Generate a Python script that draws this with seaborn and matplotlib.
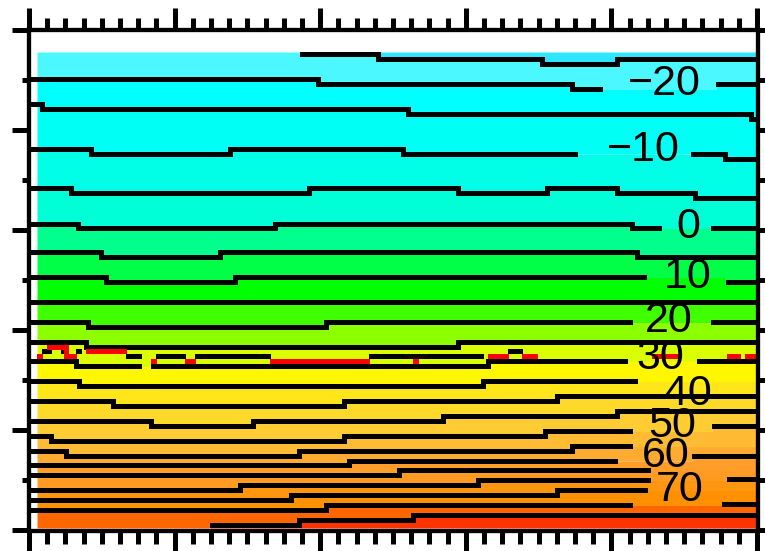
import numpy as np
import pandas as pd
import matplotlib
matplotlib.use("Agg")
import matplotlib.pyplot as plt
import seaborn as sns
from matplotlib.ticker import FixedLocator

sns.set_style("ticks")
plt.rcParams['font.family'] = ['Liberation Sans', 'DejaVu Sans']

nan = np.nan

# ---- contour lines (step breakpoints along x, value of each step; nan = gap) ----
L0_X = [29, 300, 378, 542, 617, 757];                L0_Y = [nan, 54.5, 59.5, 64.5, 59.5]
L1_X = [29, 318, 572, 602, 716, 757];                L1_Y = [79.5, 84.5, 89.5, nan, 84.5]
L2_X = [29, 42, 408, 751, 757];                      L2_Y = [104.5, 109.5, 114.5, 119.5]
L3_X = [29, 91, 230, 403, 577, 691, 725, 757];       L3_Y = [149.5, 154, 149.5, 154, nan, 154, 159]
L4_X = [29, 71, 309, 458, 547, 617, 695, 757];       L4_Y = [188.5, 193.5, 188.5, 193.5, 188.5, 193.5, 198.5]
L5_X = [29, 78, 275, 632, 661, 711, 757];            L5_Y = [224, 228.5, 224, 228.5, nan, 228.5]
L6_X = [29, 101, 220, 637, 757];                     L6_Y = [252.5, 257.5, 252.5, 257.5]
L7_X = [29, 106, 235, 646, 726, 757];                L7_Y = [277.5, 282.5, 277.5, nan, 282.5]
L8_X = [29, 757];                                    L8_Y = [302.5]
L9_X = [29, 88, 326, 632, 711, 757];                 L9_Y = [322.5, 327.5, 322.5, nan, 322.5]
L10_X = [29, 86, 458, 757];                          L10_Y = [342.5, 347, 342.5]
L11_X = [29, 76, 141, 151, 488, 627, 697, 757];      L11_Y = [361.5, 366.5, nan, 366.5, 361.5, nan, 361.5]
L12_X = [29, 79, 483, 637, 757];                     L12_Y = [381.5, 386.5, 381.5, nan]
L13_X = [29, 113, 344, 557, 757];                    L13_Y = [401.5, 406.5, 401.5, 396.5]
L14_X = [29, 151, 253, 443, 617, 757];               L14_Y = [421.5, 426.5, 421.5, 416.5, 411.5]
L15_X = [29, 51, 344, 545, 632, 712, 757];           L15_Y = [436.5, 441.5, 436.5, 431.5, nan, 426.5]
L16_X = [29, 66, 299, 572, 632, 757];                L16_Y = [451.5, 456.5, 451.5, 446.5, nan]
L17_X = [29, 349, 617, 692, 757];                    L17_Y = [465.5, 461, nan, 456.5]
L18_X = [29, 399, 650, 757];                         L18_Y = [475.5, 470.5, nan]
L19_X = [29, 240, 478, 650, 727, 757];               L19_Y = [490.5, 485.5, 480.5, nan, 479.5]
L20_X = [29, 291, 557, 647, 757];                    L20_Y = [500.5, 495.5, 490.5, nan]
L21_X = [29, 326, 632, 722, 757];                    L21_Y = [510.5, 505.5, nan, 504.5]
L22_X = [29, 210, 299, 413, 757];                    L22_Y = [nan, 525.5, 520.5, 515.5]

LINES_X = [L0_X, L1_X, L2_X, L3_X, L4_X, L5_X, L6_X, L7_X, L8_X, L9_X, L10_X, L11_X,
           L12_X, L13_X, L14_X, L15_X, L16_X, L17_X, L18_X, L19_X, L20_X, L21_X, L22_X]
LINES_Y = [L0_Y, L1_Y, L2_Y, L3_Y, L4_Y, L5_Y, L6_Y, L7_Y, L8_Y, L9_Y, L10_Y, L11_Y,
           L12_Y, L13_Y, L14_Y, L15_Y, L16_Y, L17_Y, L18_Y, L19_Y, L20_Y, L21_Y, L22_Y]

# black fragments near the red line
BITS_X = [42, 51, 61, 66, 76, 81, 126, 141, 156, 185, 195, 270, 369, 483, 508, 522]
BITS_Y = [351.5, nan, 351.5, nan, 351.5, nan, 356.5, nan, 356.5, nan, 356.5, nan, 356.5, nan, 351.5]

# red line fragments
RED_X = [37, 42, 47, 66, 76, 86, 126, 151, 156, 185, 195, 270, 369, 413, 418,
         488, 508, 522, 537, 652, 680, 727, 740, 745, 757]
RED_Y = [356.5, nan, 347, 356.5, nan, 351.5, nan, 361.5, nan, 361.5, nan, 361.5, nan,
         361.5, nan, 356.5, nan, 356.5, nan, 356.5, nan, 356.5, nan, 356.5]

# band colours, top to bottom
BAND_COLORS = ['#30E6FF', '#4CF8FF', '#00FFFF', '#00FFF4', '#00FFE6', '#00FFD6',
               '#00FF8C', '#00FF46', '#00FF00', '#40FF00', '#8CFF00', '#DAFF00',
               '#FFF700', '#FFE61A', '#FFD92A', '#FFCC33', '#FFBB33', '#FFAA30',
               '#FF9E2A', '#FF9A22', '#FF9610', '#FF9000', '#FF6600', '#FF3300']

# contour labels
LABEL_TEXT = ['\u221220', '\u221210', '0', '10', '20', '30', '40', '50', '60', '70']
LABEL_X = [664, 643, 688, 688, 669, 660, 688, 672, 666, 680]
LABEL_Y = [84, 150, 227, 277, 321, 358, 394, 426, 456, 490]

FILL_X0, FILL_X1, FILL_TOP, FILL_BOTTOM = 37, 756, 52, 528


def step_eval(xb, yv, xg, default=None):
    s = pd.Series(np.array(yv, float)).ffill()
    s = s.bfill() if default is None else s.fillna(default)
    idx = np.clip(np.searchsorted(xb, xg, side='right') - 1, 0, len(yv) - 1)
    return s.values[idx]


def runs(xb, yv):
    out, i, n = [], 0, len(yv)
    while i < n:
        if np.isnan(yv[i]):
            i += 1
            continue
        j = i
        while j + 1 < n and not np.isnan(yv[j + 1]):
            j += 1
        out.append((list(xb[i:j + 2]), list(yv[i:j + 1]) + [yv[j]]))
        i = j + 1
    return out


fig = plt.figure(figsize=(7.65, 5.51), dpi=100)
ax = fig.add_axes([29 / 765, (551 - 530.5) / 551, 729 / 765, 501 / 551])

xg = np.arange(FILL_X0, FILL_X1 + 1, 1.0)
bounds = [np.full_like(xg, FILL_TOP)]
for k, (xb, yv) in enumerate(zip(LINES_X, LINES_Y)):
    d = FILL_TOP if k == 0 else (FILL_BOTTOM if k == len(LINES_X) - 1 else None)
    bounds.append(step_eval(xb, yv, xg, d))
bounds.append(np.full_like(xg, FILL_BOTTOM))
for i, c in enumerate(BAND_COLORS):
    ax.fill_between(xg, bounds[i], bounds[i + 1], step='post', color=c,
                    linewidth=0, antialiased=False, zorder=1)


def draw(xb, yv, color, lw):
    for xs, ys in runs(xb, yv):
        sns.lineplot(x=xs, y=ys, drawstyle='steps-post', color=color, linewidth=lw,
                     estimator=None, sort=False, ax=ax, legend=False,
                     antialiased=False, solid_capstyle='butt', solid_joinstyle='miter',
                     zorder=3)


for xb, yv in zip(LINES_X, LINES_Y):
    draw(xb, yv, 'black', 3.6)
draw(BITS_X, BITS_Y, 'black', 3.6)
draw(RED_X, RED_Y, '#FF0000', 3.6)

for s, x, y in zip(LABEL_TEXT, LABEL_X, LABEL_Y):
    ax.text(x, y, s, ha='center', va='center', fontsize=31, color='black', zorder=4)

ax.set_xlim(29, 758)
ax.set_ylim(530.5, 29.5)
ax.set_xlabel('')
ax.set_ylabel('')

ax.xaxis.set_major_locator(FixedLocator(29 + 145.6 * np.arange(6)))
ax.xaxis.set_minor_locator(FixedLocator(29 + 18.2 * np.arange(41)))
ax.yaxis.set_major_locator(FixedLocator(30 + 100 * np.arange(6)))
ax.yaxis.set_minor_locator(FixedLocator(80 + 100 * np.arange(5)))
ax.tick_params(axis='x', which='major', length=16, width=3.6, direction='out',
               top=True, bottom=True, labelbottom=False, labeltop=False, color='black')
ax.tick_params(axis='x', which='minor', length=9, width=3.6, direction='out',
               top=True, bottom=True, color='black')
ax.tick_params(axis='y', which='major', length=12, width=3.6, direction='out',
               left=True, right=True, labelleft=False, labelright=False, color='black')
ax.tick_params(axis='y', which='minor', length=5, width=3.6, direction='out',
               left=True, right=True, color='black')
for sp in ax.spines.values():
    sp.set_visible(True)
    sp.set_linewidth(3.1)
    sp.set_color('black')
    sp.set_zorder(5)

fig.savefig('out.png', dpi=100)
